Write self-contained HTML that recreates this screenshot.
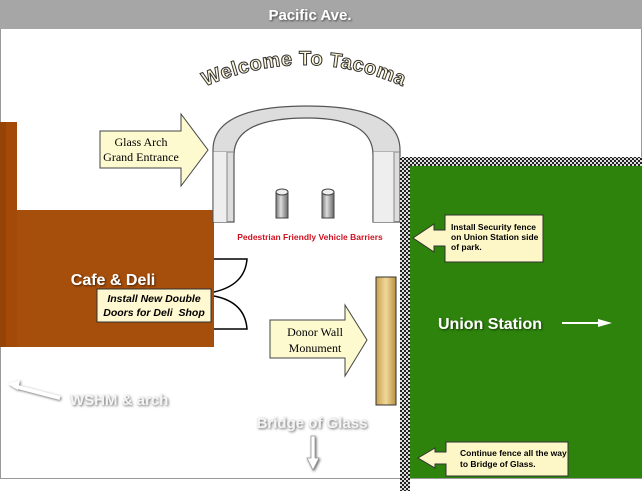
<!DOCTYPE html>
<html><head><style>
body{margin:0;width:642px;height:491px;overflow:hidden;background:#fff}
</style></head><body>
<svg width="642" height="491" viewBox="0 0 642 491" xmlns="http://www.w3.org/2000/svg" font-family="Liberation Sans, sans-serif">
<defs>
<pattern id="chk" width="4" height="4" patternUnits="userSpaceOnUse">
<rect width="4" height="4" fill="#222"/><rect width="2" height="2" fill="#ddd"/><rect x="2" y="2" width="2" height="2" fill="#ddd"/>
</pattern>
<linearGradient id="cyl" x1="0" x2="1"><stop offset="0" stop-color="#777"/><stop offset=".4" stop-color="#ddd"/><stop offset="1" stop-color="#666"/></linearGradient>
<linearGradient id="tan" x1="0" x2="1"><stop offset="0" stop-color="#c9a050"/><stop offset=".5" stop-color="#f0d898"/><stop offset="1" stop-color="#b89040"/></linearGradient>
<filter id="sh"><feDropShadow dx="1" dy="1" stdDeviation="1" flood-color="#000" flood-opacity=".6"/></filter>
<filter id="sh2"><feDropShadow dx="1" dy="1" stdDeviation="1.2" flood-color="#555" flood-opacity=".9"/></filter>
<path id="arc" d="M193,92 Q305,38 415,92"/>
</defs>
<rect x="0.5" y="0.5" width="641" height="478" fill="#fff" stroke="#999"/>
<rect x="0" y="0" width="642" height="29" fill="#a6a6a6"/>
<text x="310" y="20" text-anchor="middle" font-size="15" font-weight="bold" fill="#fff" filter="url(#sh)">Pacific Ave.</text>
<text font-size="20" font-weight="bold" fill="#fff8d8" stroke="#333" stroke-width="1" letter-spacing="0.5"><textPath href="#arc" startOffset="50%" text-anchor="middle">Welcome To Tacoma</textPath></text>
<!-- brown building -->
<rect x="0" y="122" width="17" height="225" fill="#a34a08"/>
<rect x="17" y="210" width="197" height="137" fill="#a64e0b"/>
<rect x="0" y="122" width="6" height="225" fill="#8a3c06" opacity=".5"/>
<text x="113" y="285" text-anchor="middle" font-size="16" font-weight="bold" fill="#fff" filter="url(#sh)">Cafe &amp; Deli</text>
<!-- doors -->
<path d="M214,259 H247 Q245,285 214,292 M214,296 Q245,302 247,329 H214" fill="none" stroke="#000" stroke-width="1.5"/>
<rect x="97" y="289" width="114" height="33" fill="#fff8d0" stroke="#333"/>
<text x="154" y="302" text-anchor="middle" font-size="10.5" font-weight="bold" font-style="italic">Install New Double</text>
<text x="154" y="316" text-anchor="middle" font-size="10.5" font-weight="bold" font-style="italic">Doors for Deli&#160; Shop</text>
<!-- arch -->
<path d="M213,222 V150 Q213,106 307,106 Q400,106 400,150 V222 H373 V155 Q373,118 307,118 Q234,118 234,155 V222 Z" fill="#ddd" stroke="#555" stroke-width="1.2"/>
<path d="M213,152 H234 M373,152 H400 M227,152 V222 M394,152 V222" stroke="#888" fill="none"/>
<rect x="213.5" y="152" width="13" height="70" fill="#eee"/>
<rect x="373.5" y="152" width="20" height="70" fill="#eee"/>
<!-- barriers -->
<rect x="276" y="192" width="12" height="26" fill="url(#cyl)" stroke="#444"/>
<ellipse cx="282" cy="192" rx="6" ry="3" fill="#eee" stroke="#444"/>
<rect x="322" y="192" width="12" height="26" fill="url(#cyl)" stroke="#444"/>
<ellipse cx="328" cy="192" rx="6" ry="3" fill="#eee" stroke="#444"/>
<text x="310" y="240" text-anchor="middle" font-size="8.5" font-weight="bold" fill="#d01020">Pedestrian Friendly Vehicle Barriers</text>
<!-- glass arch arrow -->
<path d="M100,131 H181 V114 L208,150 L181,186 V168 H100 Z" fill="#fdfad0" stroke="#444"/>
<text x="141" y="146" text-anchor="middle" font-size="12" font-family="Liberation Serif, serif">Glass Arch</text>
<text x="141" y="161" text-anchor="middle" font-size="12" font-family="Liberation Serif, serif">Grand Entrance</text>
<!-- green -->
<rect x="410" y="166" width="232" height="312" fill="#2d830c"/>
<rect x="400" y="157" width="242" height="9" fill="url(#chk)"/>
<rect x="400" y="157" width="10" height="334" fill="url(#chk)"/>
<!-- donor wall -->
<path d="M270,320 H345 V305 L367,340 L345,376 V358 H270 Z" fill="#fdfad0" stroke="#444"/>
<text x="315" y="336" text-anchor="middle" font-size="12" font-family="Liberation Serif, serif">Donor Wall</text>
<text x="315" y="352" text-anchor="middle" font-size="12" font-family="Liberation Serif, serif">Monument</text>
<rect x="376" y="277" width="20" height="128" fill="url(#tan)" stroke="#333"/>
<!-- callouts -->
<path d="M445,215 H543 V262 H445 V246 H434 V252 L413,238 L434,224 V230 H445 Z" fill="#fdf7c8" stroke="#333"/>
<text x="451" y="230" font-size="8.5" font-weight="bold">Install Security fence</text>
<text x="451" y="240" font-size="8.5" font-weight="bold">on Union Station side</text>
<text x="451" y="250" font-size="8.5" font-weight="bold">of park.</text>
<path d="M446,442 H568 V476 H446 V464 H435 V468 L418,458 L435,448 V452 H446 Z" fill="#fdf7c8" stroke="#333"/>
<text x="460" y="456" font-size="8.5" font-weight="bold">Continue fence all the way</text>
<text x="460" y="467" font-size="8.5" font-weight="bold">to Bridge of Glass.</text>
<text x="438" y="329" font-size="16" font-weight="bold" fill="#fff" filter="url(#sh)">Union Station</text>
<path d="M562,323 H600" stroke="#fff" stroke-width="2"/><path d="M598,319 L612,323 L598,327 Z" fill="#fff"/>
<!-- WSHM -->
<g filter="url(#sh2)">
<path d="M60,398 L14,386" stroke="#fff" stroke-width="4"/>
<path d="M8,384 L20,380 L18,390 Z" fill="#fff"/>
<text x="70" y="405" font-size="15" font-weight="bold" fill="#f4f4f4">WSHM &amp; arch</text>
<text x="312" y="428" text-anchor="middle" font-size="15" font-weight="bold" fill="#f4f4f4">Bridge of Glass</text>
<path d="M311,436 V458 H307 L313,470 L319,458 H315 V436 Z" fill="#fff" stroke="#999" stroke-width=".8"/>
</g>
</svg>
</body></html>
